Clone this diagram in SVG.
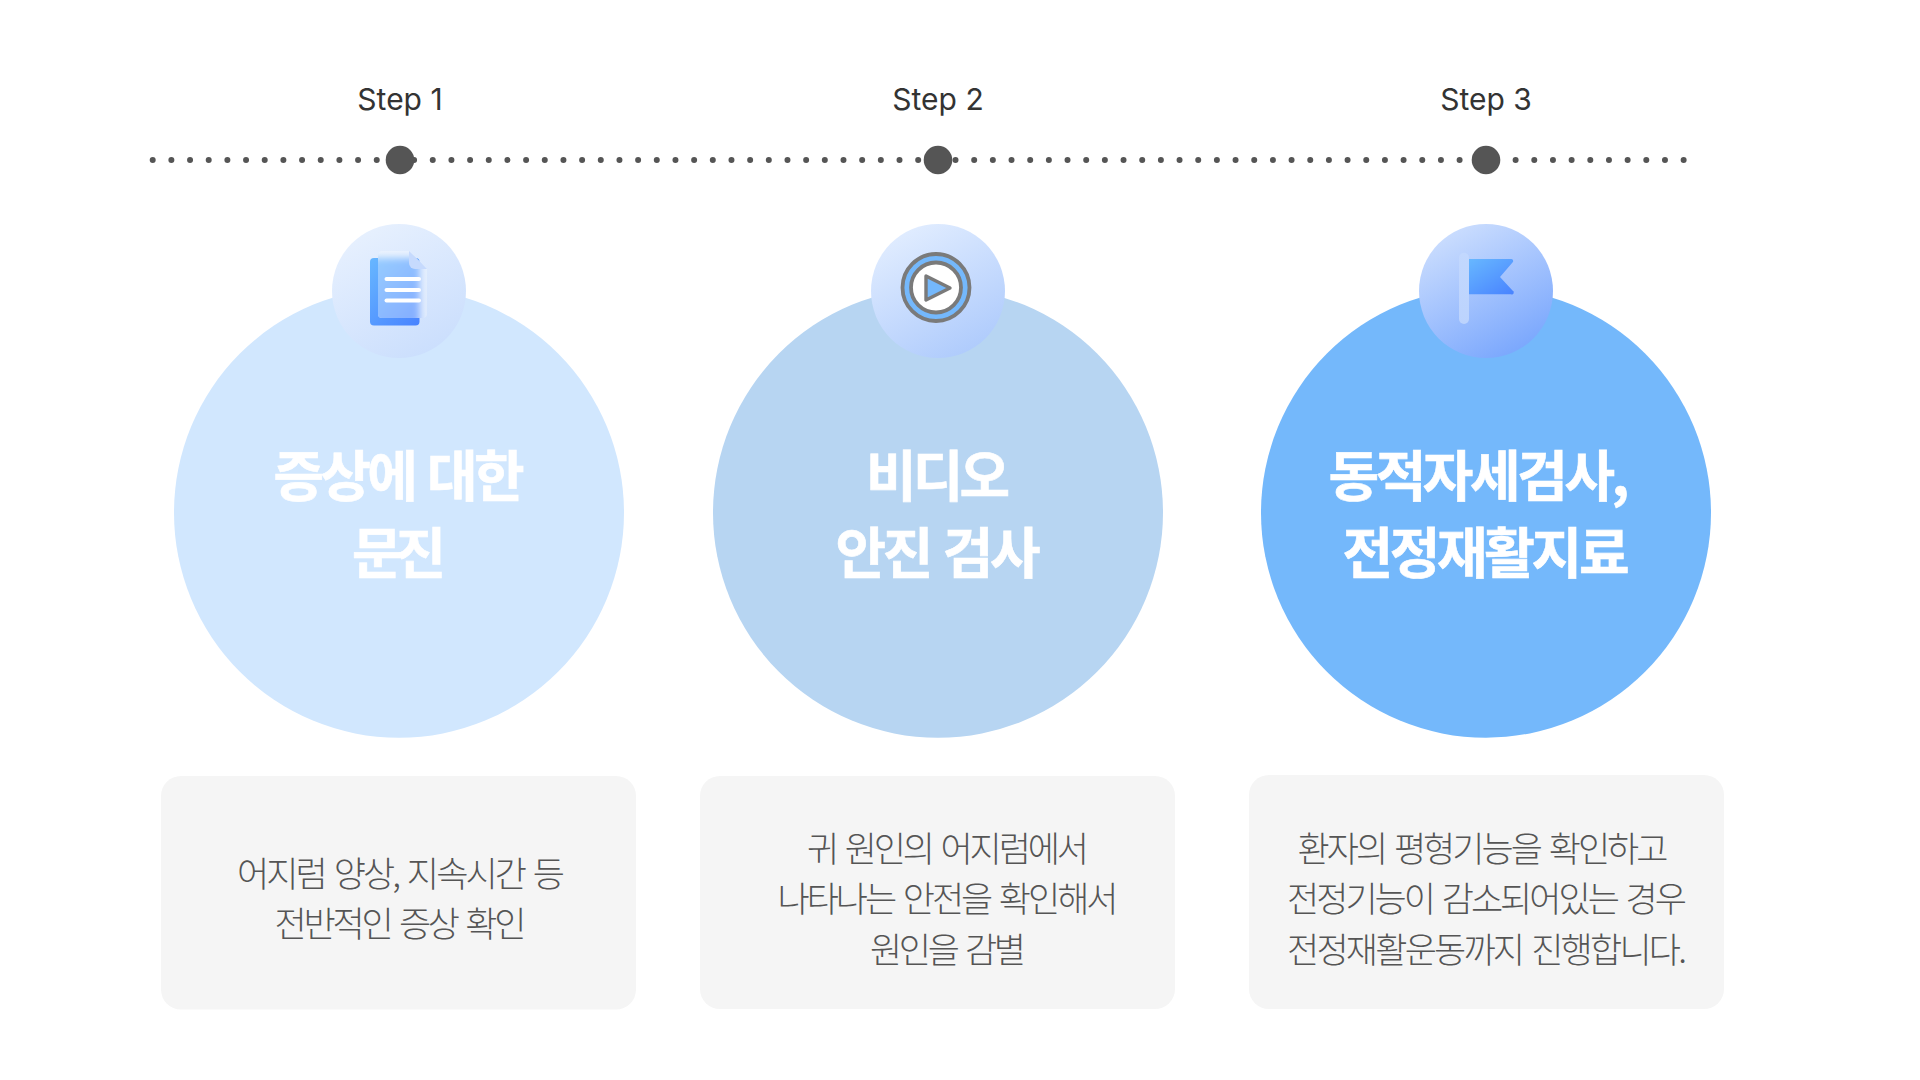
<svg xmlns="http://www.w3.org/2000/svg" width="1920" height="1080" viewBox="0 0 1920 1080">
<style>
.step{font:400 30px Inter,"Noto Sans",sans-serif;fill:#333;text-anchor:middle}
.title{font:700 55px "Noto Sans CJK KR","Noto Sans",sans-serif;fill:#fff;text-anchor:middle;stroke:#fff;stroke-width:.6px;word-spacing:4px}
.body{font:300 35px "Noto Sans CJK KR","Noto Sans",sans-serif;fill:#555;text-anchor:middle;word-spacing:4px}
.box{fill:#f5f5f5}
.hub{fill:#555}
</style>
<defs>
<linearGradient id="g1" x1="0.2" y1="0" x2="0.75" y2="1"><stop offset="0" stop-color="#e8f1fe"/><stop offset="1" stop-color="#cadefd"/></linearGradient>
<linearGradient id="g2" x1="0.2" y1="0" x2="0.75" y2="1"><stop offset="0" stop-color="#e3eeff"/><stop offset="1" stop-color="#adcafc"/></linearGradient>
<linearGradient id="g3" x1="0.2" y1="0" x2="0.75" y2="1"><stop offset="0" stop-color="#cfe0fe"/><stop offset="1" stop-color="#77a5fd"/></linearGradient>
<linearGradient id="ib" x1="0.1" y1="0" x2="0.9" y2="1"><stop offset="0" stop-color="#66b5ff"/><stop offset="1" stop-color="#4a85ff"/></linearGradient>
<linearGradient id="pole" x1="0" y1="0" x2="0" y2="1"><stop offset="0" stop-color="#c2d8fe"/><stop offset="1" stop-color="#bcd3fd"/></linearGradient>
<clipPath id="sheet"><path d="M382 251H409L427 269V314a4 4 0 0 1-4 4H382a4 4 0 0 1-4-4V255a4 4 0 0 1 4-4Z"/></clipPath>
<filter id="blur" x="-30%" y="-30%" width="160%" height="160%"><feGaussianBlur stdDeviation="3.5"/></filter>
</defs>
<g id="connectors"><line x1="152.7" y1="160" x2="1686" y2="160" stroke="#555" stroke-width="6" stroke-linecap="round" stroke-dasharray="0 18.67"/></g>
<g id="step1">
<text class="step" x="400" y="110">Step 1</text>
<circle class="hub" cx="400" cy="160" r="14.3"/>
<circle cx="399" cy="512.7" r="225" fill="#d1e7fe"/>
<circle cx="399" cy="291" r="67" fill="url(#g1)"/>
<rect x="370" y="258" width="49.5" height="67.5" rx="4" fill="url(#ib)"/>
<g clip-path="url(#sheet)">
<circle cx="399" cy="291" r="67" fill="url(#g1)"/>
<rect x="370" y="258" width="49.5" height="67.5" rx="4" fill="url(#ib)" filter="url(#blur)"/>
<rect x="378" y="251" width="49" height="67" fill="#fff" fill-opacity=".32"/>
</g>
<path d="M409 251L427 269H415a6 6 0 0 1-6-6Z" fill="#c6dafd"/>
<g stroke="#fff" stroke-width="4" stroke-linecap="round"><line x1="386.5" y1="279" x2="419" y2="279"/><line x1="386.5" y1="290" x2="419" y2="290"/><line x1="386.5" y1="300.500" x2="419" y2="300.500"/></g>
<text class="title" x="399" y="496" textLength="251">증상에 대한</text>
<text class="title" x="399" y="572.500" textLength="94">문진</text>
<rect class="box" x="161" y="776" width="475" height="233.500" rx="20"/>
<text class="body" x="401" y="887" textLength="328">어지럼 양상, 지속시간 등</text>
<text class="body" x="400.500" y="937" textLength="252">전반적인 증상 확인</text>
</g>
<g id="step2">
<text class="step" x="938" y="110">Step 2</text>
<circle class="hub" cx="938" cy="160" r="14.3"/>
<circle cx="938" cy="512.7" r="225" fill="#b7d5f2"/>
<circle cx="938" cy="291" r="67" fill="url(#g2)"/>
<circle cx="936" cy="287.500" r="33.500" fill="#74b8fc" stroke="#7a7a7a" stroke-width="3.800"/>
<circle cx="936" cy="287.500" r="25" fill="#fff" stroke="#7a7a7a" stroke-width="3.800"/>
<path d="M926 276L950 288L926 300Z" fill="#74b8fc" stroke="#7a7a7a" stroke-width="3.400" stroke-linejoin="round"/>
<text class="title" x="938" y="496" textLength="144">비디오</text>
<text class="title" x="938" y="572.500" textLength="205">안진 검사</text>
<rect class="box" x="700" y="776" width="475" height="233" rx="20"/>
<text class="body" x="948" y="862" textLength="282">귀 원인의 어지럼에서</text>
<text class="body" x="948" y="912" textLength="341">나타나는 안전을 확인해서</text>
<text class="body" x="948" y="962.500" textLength="156">원인을 감별</text>
</g>
<g id="step3">
<text class="step" x="1486" y="110">Step 3</text>
<circle class="hub" cx="1486" cy="160" r="14.3"/>
<circle cx="1486" cy="512.7" r="225" fill="#74b8fb"/>
<circle cx="1486" cy="291" r="67" fill="url(#g3)"/>
<path d="M1469 259H1511a2 2 0 0 1 1.500 3.500L1500 277L1512.500 290.500a2 2 0 0 1-1.500 3.800H1469Z" fill="url(#ib)"/>
<rect x="1459" y="252.700" width="10" height="71.300" rx="5" fill="url(#pole)"/>
<text class="title" x="1479" y="496" textLength="301">동적자세검사,</text>
<text class="title" x="1486" y="572.500" textLength="287">전정재활지료</text>
<rect class="box" x="1249" y="775" width="475" height="234" rx="20"/>
<text class="body" x="1483" y="862" textLength="371">환자의 평형기능을 확인하고</text>
<text class="body" x="1487" y="912" textLength="400">전정기능이 감소되어있는 경우</text>
<text class="body" x="1487" y="962.500" textLength="400">전정재활운동까지 진행합니다.</text>
</g>
</svg>
